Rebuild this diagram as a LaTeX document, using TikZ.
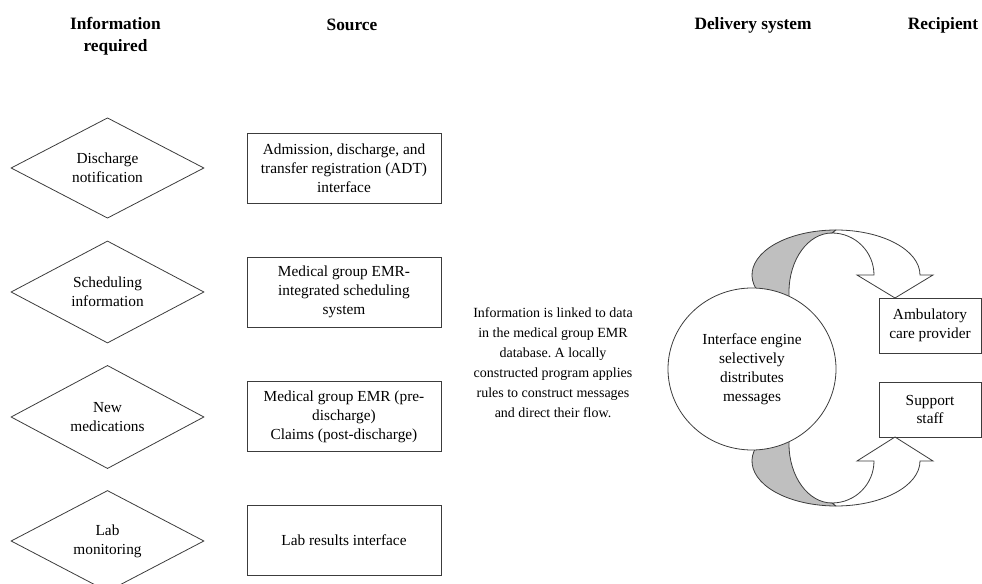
\documentclass[tikz,border=0pt]{standalone}
\usepackage{fontspec}
\setmainfont{Liberation Serif}
\usetikzlibrary{shapes.geometric}
\definecolor{linec}{HTML}{3C3C3C}
\definecolor{bandgray}{HTML}{BFBFBF}
\frenchspacing
\begin{document}
\begin{tikzpicture}[x=0.75pt,y=-0.75pt,
  every node/.style={font=\fontsize{11.5}{14.2}\selectfont, align=center, inner sep=0pt},
  lw/.style={line width=0.6pt, draw=linec},
  infodiamond/.style={lw, shape=diamond, minimum width=144.75pt, minimum height=72.75pt},
  srcbox/.style={lw, rectangle, minimum width=145.5pt, minimum height=52.5pt},
  recbox/.style={lw, rectangle, minimum width=76.5pt, minimum height=41.25pt},
  header/.style={font=\fontsize{13}{16.5}\selectfont\bfseries},
  band/.style={lw, fill=bandgray, line join=round},
  front/.style={lw, fill=white, line join=miter},
]
\path[use as bounding box] (0,0) rectangle (982,584);
\clip (0,0) rectangle (982,584);

% headers
\node[header] (hInfo) at (115.5,36) {Information\\required};
\node[header] (hSrc) at (352,25) {Source};
\node[header] (hDel) at (753,25) {Delivery system};
\node[header] (hRec) at (943,25) {Recipient};

% information required
\node[infodiamond] (d1) at (107.5,168) {Discharge\\notification};
\node[infodiamond] (d2) at (107.5,292) {Scheduling\\information};
\node[infodiamond] (d3) at (107.5,417) {New\\medications};
\node[infodiamond] (d4) at (107.5,541) {Lab\\monitoring};

% sources
\node[srcbox] (s1) at (344,168) {Admission, discharge, and\\transfer registration (ADT)\\interface};
\node[srcbox] (s2) at (344,292) {Medical group EMR-\\integrated scheduling\\system};
\node[srcbox] (s3) at (344,416.5) {Medical group EMR (pre-\\discharge)\\Claims (post-discharge)};
\node[srcbox] (s4) at (344,540.5) {Lab results interface};

% note
\node[font=\fontsize{10.5}{15}\selectfont] (note) at (553,363)
  {Information is linked to data\\in the medical group EMR\\database. A locally\\constructed program applies\\rules to construct messages\\and direct their flow.};

% curved arrows: back bands (lower ends hidden behind the engine circle)
\path[band] (763.25,340) -- (763.25,297.5) arc[start angle=150, end angle=270, x radius=84, y radius=45]
  -- (832,233) arc[start angle=270, end angle=180, x radius=43, y radius=59] -- (789,340) -- cycle;
\path[band] (763.25,400) -- (763.25,438.5) arc[start angle=210, end angle=90, x radius=84, y radius=45]
  -- (832,503) arc[start angle=90, end angle=180, x radius=43, y radius=59] -- (789,400) -- cycle;

% curved arrows: front bands with heads
\path[front] (836,230) arc[start angle=270, end angle=360, x radius=84, y radius=45]
  -- (933,275) -- (895,298) -- (857,275) -- (874,275)
  arc[start angle=360, end angle=270, radius=42] -- cycle;
\path[front] (836,506) arc[start angle=90, end angle=0, x radius=84, y radius=45]
  -- (933,461) -- (895,437) -- (857,461) -- (874,461)
  arc[start angle=0, end angle=90, radius=42] -- cycle;

% delivery system
\node[lw, ellipse, fill=white, minimum width=126pt, minimum height=121.5pt] (engine) at (752,369)
  {Interface engine\\selectively\\distributes\\messages};

% recipients
\node[recbox] (amb) at (930,325.5) {Ambulatory\\care provider};
\node[recbox] (sup) at (930,409.5) {Support\\staff};
\end{tikzpicture}
\end{document}
